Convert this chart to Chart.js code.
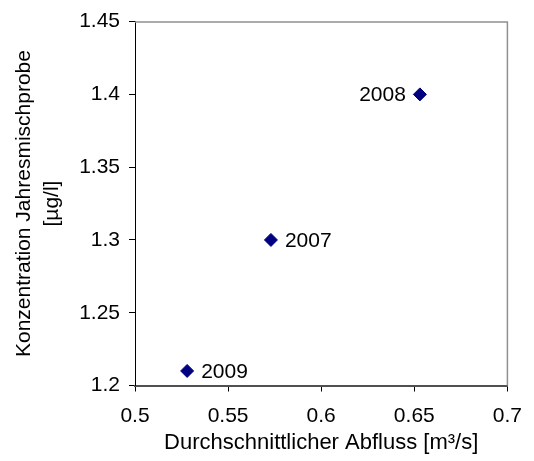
<!DOCTYPE html>
<html>
<head>
<meta charset="utf-8">
<script src="https://cdn.jsdelivr.net/npm/chart.js@4/dist/chart.umd.min.js"></script>
<style>
  html, body { margin: 0; padding: 0; background: #fff; }
  #wrap { width: 534px; height: 461px; position: relative; }
</style>
</head>
<body>
<div id="wrap"><canvas id="chart"></canvas></div>
<script>
// ── Data ──
const years     = ['2008', '2007', '2009'];
const abfluss   = [0.653, 0.573, 0.528];   // m³/s
const konz      = [1.40, 1.30, 1.21];      // µg/l
const labelSide = ['left', 'right', 'right'];
const xTicks    = [0.5, 0.55, 0.6, 0.65, 0.7];
const yTicks    = [1.2, 1.25, 1.3, 1.35, 1.4, 1.45];

const FONT = "'Liberation Sans', Arial, sans-serif";
const NAVY = '#000080';

// year labels next to each marker
const yearLabels = {
  id: 'yearLabels',
  afterDatasetsDraw(chart) {
    const ctx = chart.ctx;
    const meta = chart.getDatasetMeta(0);
    ctx.save();
    ctx.font = '21px ' + FONT;
    ctx.fillStyle = '#000';
    ctx.textBaseline = 'middle';
    meta.data.forEach((pt, i) => {
      const left = labelSide[i] === 'left';
      ctx.textAlign = left ? 'right' : 'left';
      ctx.fillText(years[i], pt.x + (left ? -14 : 14), pt.y + 1);
    });
    ctx.restore();
  }
};

// grey top/right frame of the plot area
const plotFrame = {
  id: 'plotFrame',
  beforeDatasetsDraw(chart) {
    const { ctx, chartArea: a } = chart;
    ctx.save();
    ctx.strokeStyle = '#909090';
    ctx.lineWidth = 1.5;
    ctx.beginPath();
    ctx.moveTo(a.left, a.top + 0.5);
    ctx.lineTo(a.right, a.top + 0.5);
    ctx.lineTo(a.right, a.bottom);
    ctx.stroke();
    ctx.restore();
  }
};

new Chart(document.getElementById('chart'), {
  type: 'scatter',
  data: {
    datasets: [{
      data: abfluss.map((x, i) => ({ x, y: konz[i] })),
      pointStyle: 'rectRot',
      pointRadius: 6.5,
      pointHoverRadius: 6.5,
      backgroundColor: NAVY,
      borderColor: NAVY,
      borderWidth: 1,
    }]
  },
  options: {
    responsive: true,
    maintainAspectRatio: false,
    animation: false,
    layout: { padding: { top: 20.5, right: 16, left: 0, bottom: 0 } },
    plugins: { legend: { display: false }, tooltip: { enabled: false } },
    scales: {
      x: {
        type: 'linear',
        min: 0.5, max: 0.7,
        afterBuildTicks: s => { s.ticks = xTicks.map(v => ({ value: v })); },
        afterFit: s => { s.height = 75.5; },
        ticks: { color: '#000', font: { family: FONT, size: 21 }, padding: 12,
                 callback: v => String(v) },
        grid: { drawOnChartArea: false, drawTicks: true, tickLength: 6, color: '#000' },
        border: { display: true, color: '#505050', width: 2 },
        title: { display: true, text: 'Durchschnittlicher Abfluss [m³/s]', color: '#000',
                 font: { family: FONT, size: 22 }, padding: { top: 0, bottom: 4.5 } },
      },
      y: {
        type: 'linear',
        min: 1.2, max: 1.45,
        afterBuildTicks: s => { s.ticks = yTicks.map(v => ({ value: v })); },
        afterFit: s => { s.width = 135; },
        ticks: { color: '#000', font: { family: FONT, size: 21 }, padding: 9,
                 callback: v => String(v) },
        grid: { drawOnChartArea: false, drawTicks: true, tickLength: 6, color: '#000' },
        border: { display: true, color: '#000', width: 1 },
        title: { display: true, text: ['Konzentration Jahresmischprobe', '[µg/l]'], color: '#000',
                 font: { family: FONT, size: 21, lineHeight: 1.3 }, padding: { top: 11, bottom: 0 } },
      }
    }
  },
  plugins: [plotFrame, yearLabels]
});
</script>
</body>
</html>
